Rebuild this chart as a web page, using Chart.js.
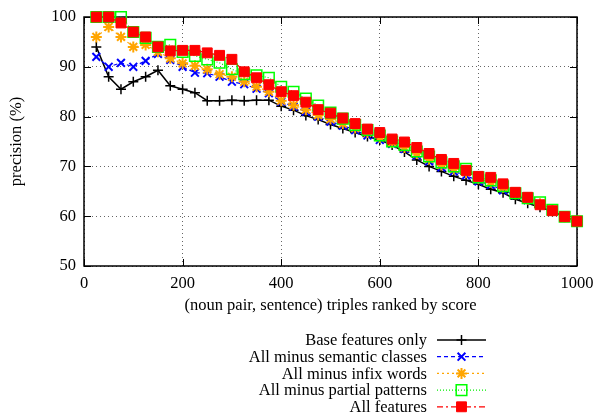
<!DOCTYPE html>
<html>
<head>
<meta charset="utf-8">
<script src="https://cdn.jsdelivr.net/npm/chart.js@4.4.1/dist/chart.umd.min.js"></script>
<style>
  html, body { margin: 0; padding: 0; background: #fff; }
</style>
</head>
<body>
<canvas id="chart-precision" width="595" height="415"></canvas>
<script>
const ranks = [25, 50, 75, 100, 125, 150, 175, 200, 225, 250,
               275, 300, 325, 350, 375, 400, 425, 450, 475, 500,
               525, 550, 575, 600, 625, 650, 675, 700, 725, 750,
               775, 800, 825, 850, 875, 900, 925, 950, 975, 1000];

const baseOnly = [94, 88, 85.5, 87, 88, 89.3, 86.2, 85.5, 84.8, 83.2,
                  83.2, 83.3, 83.2, 83.3, 83.3, 82.1, 81.3, 80.2, 79.4, 78.4,
                  77.6, 76.8, 76.0, 75.3, 74.3, 72.9, 71.3, 70.0, 69.0, 68.0,
                  67.2, 66.4, 65.4, 64.7, 63.4, 62.6, 61.8, 61.0, 59.9, 58.9];

const minusSemantic = [92, 90, 90.8, 90, 91.2, 92.6, 91.4, 90, 88.8, 88.7,
                       88, 87, 86.5, 85.6, 84.7, 83, 82, 81, 80, 79,
                       78.2, 77.3, 76.2, 75.3, 74.5, 73.5, 72.2, 71, 69.8, 69,
                       68.2, 67, 66.3, 65.2, 64.2, 63.2, 62.3, 61.1, 59.8, 59];

const minusInfix = [96, 98, 96, 94, 94.4, 93, 91.7, 90.7, 90.2, 89.5,
                    88.5, 88, 87, 86, 85, 83.2, 82.3, 81.4, 80.3, 79.5,
                    78.6, 77.7, 76.8, 75.8, 74.8, 73.8, 72.6, 71.5, 70.3, 69.5,
                    68.8, 67.5, 66.8, 65.8, 64.5, 63.4, 62.5, 61.2, 59.9, 59];

const minusPartial = [100, 100, 100, 97, 95.8, 94, 94.4, 93, 92.2, 91.5,
                      90.8, 89.5, 88.5, 88.3, 87.8, 86, 85, 83.6, 82.2, 80.8,
                      79.6, 78.3, 77.3, 76.2, 75, 74.3, 73, 72, 70.8, 70,
                      69.5, 67.8, 67.2, 66, 64.6, 63.6, 62.8, 61.3, 59.9, 59];

const allFeatures = [100, 100, 98.8, 97, 96, 94, 93.2, 93.3, 93.3, 92.8,
                     92.3, 91.5, 89, 87.8, 86.4, 85, 84.2, 82.9, 81.4, 80.7,
                     79.7, 78.6, 77.5, 76.8, 75.5, 74.9, 73.8, 72.6, 71.4, 70.6,
                     69.2, 68, 67.8, 66.5, 64.8, 63.8, 62.3, 61.1, 59.9, 59];

const seriesNames = ['Base features only', 'All minus semantic classes', 'All minus infix words',
                     'All minus partial patterns', 'All features'];

const xTicks = [0, 200, 400, 600, 800, 1000];
const yTicks = [50, 60, 70, 80, 90, 100];

const FONT = 'Liberation Serif';
const FONT_SIZE = 16.5;

function points(values) {
    return ranks.map((r, i) => ({ x: r, y: values[i] }));
}

// gnuplot style box with inward ticks, and the legend under the plot
const framePlugin = {
    id: 'frame',
    beforeDatasetsDraw(chart) {
        const { ctx, chartArea: a, scales: { x, y } } = chart;
        ctx.save();
        ctx.strokeStyle = '#000';
        ctx.lineWidth = 1;
        ctx.beginPath();
        xTicks.forEach(v => {
            const px = Math.round(x.getPixelForValue(v)) + 0.5;
            ctx.moveTo(px, a.bottom); ctx.lineTo(px, a.bottom - 7);
            ctx.moveTo(px, a.top); ctx.lineTo(px, a.top + 7);
        });
        yTicks.forEach(v => {
            const py = Math.round(y.getPixelForValue(v)) + 0.5;
            ctx.moveTo(a.left, py); ctx.lineTo(a.left + 7, py);
            ctx.moveTo(a.right, py); ctx.lineTo(a.right - 7, py);
        });
        ctx.stroke();
        ctx.lineWidth = 1.5;
        ctx.strokeRect(a.left, a.top, a.right - a.left, a.bottom - a.top);
        ctx.restore();
    },
    afterDraw(chart) {
        const ctx = chart.ctx;
        ctx.save();
        ctx.font = FONT_SIZE + 'px "' + FONT + '"';
        ctx.textAlign = 'right';
        ctx.textBaseline = 'middle';
        chart.data.datasets.forEach((ds, i) => {
            const rowY = 340 + i * 16.7;
            ctx.fillStyle = '#000';
            ctx.fillText(ds.label, 427, rowY + 1);
            ctx.strokeStyle = ds.borderColor;
            ctx.lineWidth = ds.borderWidth;
            ctx.setLineDash(ds.borderDash || []);
            ctx.beginPath();
            ctx.moveTo(437, rowY);
            ctx.lineTo(486, rowY);
            ctx.stroke();
            ctx.setLineDash([]);
            ctx.strokeStyle = ds.pointBorderColor;
            ctx.fillStyle = ds.pointBackgroundColor;
            ctx.lineWidth = ds.pointBorderWidth;
            Chart.helpers.drawPoint(ctx, { pointStyle: ds.pointStyle, radius: ds.pointRadius, rotation: 0, borderWidth: ds.pointBorderWidth }, 461.5, rowY);
        });
        ctx.restore();
    }
};

const ctx = document.getElementById('chart-precision').getContext('2d');
const myChart = new Chart(ctx, {
    type: 'line',
    data: {
        datasets: [{
                label: seriesNames[0],
                data: points(baseOnly),
                borderColor: '#000000',
                borderWidth: 1.5,
                pointStyle: 'cross',
                pointRadius: 5,
                pointBorderColor: '#000000',
                pointBackgroundColor: '#000000',
                pointBorderWidth: 1.5,
                order: 5
            }, {
                label: seriesNames[1],
                data: points(minusSemantic),
                borderColor: '#0000ff',
                borderWidth: 1.2,
                borderDash: [4, 3],
                pointStyle: 'crossRot',
                pointRadius: 5.5,
                pointBorderColor: '#0000ff',
                pointBackgroundColor: '#0000ff',
                pointBorderWidth: 2,
                order: 4
            }, {
                label: seriesNames[2],
                data: points(minusInfix),
                borderColor: '#ffa500',
                borderWidth: 1.2,
                borderDash: [2, 3],
                pointStyle: 'star',
                pointRadius: 5.5,
                pointBorderColor: '#ffa500',
                pointBackgroundColor: '#ffa500',
                pointBorderWidth: 2,
                order: 3
            }, {
                label: seriesNames[3],
                data: points(minusPartial),
                borderColor: '#00ee00',
                borderWidth: 1.2,
                borderDash: [1, 2],
                pointStyle: 'rect',
                pointRadius: 7.5,
                pointBorderColor: '#00ff00',
                pointBackgroundColor: 'rgba(0,0,0,0)',
                pointBorderWidth: 1.5,
                order: 2
            }, {
                label: seriesNames[4],
                data: points(allFeatures),
                borderColor: '#ff0000',
                borderWidth: 1.2,
                borderDash: [6, 3, 2, 3],
                pointStyle: 'rect',
                pointRadius: 7,
                pointBorderColor: '#ff0000',
                pointBackgroundColor: '#ff0000',
                pointBorderWidth: 1,
                order: 1
            }]
    },
    options: {
        responsive: false,
        animation: false,
        devicePixelRatio: 1,
        clip: false,
        layout: { padding: { left: 0, right: 18, top: 17, bottom: 99 } },
        plugins: {
            legend: { display: false },
            tooltip: { enabled: false }
        },
        elements: { line: { tension: 0 } },
        scales: {
            x: {
                type: 'linear',
                min: 0,
                max: 1000,
                afterBuildTicks: scale => { scale.ticks = xTicks.map(v => ({ value: v })); },
                afterFit: scale => {
                    scale.height = 50;
                    scale.paddingLeft = 0;
                    scale.paddingRight = 0;
                },
                grid: { color: 'rgba(0,0,0,0.6)', drawTicks: false, lineWidth: 1 },
                border: { display: false, dash: [1, 3] },
                ticks: {
                    color: '#000',
                    font: { family: FONT, size: FONT_SIZE },
                    padding: 8,
                    maxRotation: 0,
                    callback: v => String(v)
                },
                title: {
                    display: true,
                    text: '(noun pair, sentence) triples ranked by score',
                    color: '#000',
                    font: { family: FONT, size: FONT_SIZE },
                    padding: 0
                }
            },
            y: {
                min: 50,
                max: 100,
                afterBuildTicks: scale => { scale.ticks = yTicks.map(v => ({ value: v })); },
                afterFit: scale => {
                    scale.width = 84;
                    scale.paddingTop = 0;
                    scale.paddingBottom = 0;
                },
                grid: { color: 'rgba(0,0,0,0.6)', drawTicks: false, lineWidth: 1 },
                border: { display: false, dash: [1, 3] },
                ticks: {
                    color: '#000',
                    font: { family: FONT, size: FONT_SIZE },
                    padding: 8,
                    callback: v => String(v)
                },
                title: {
                    display: true,
                    text: 'precision (%)',
                    color: '#000',
                    font: { family: FONT, size: FONT_SIZE },
                    padding: { top: 7, bottom: 0 }
                }
            }
        }
    },
    plugins: [framePlugin]
});
</script>
</body>
</html>
